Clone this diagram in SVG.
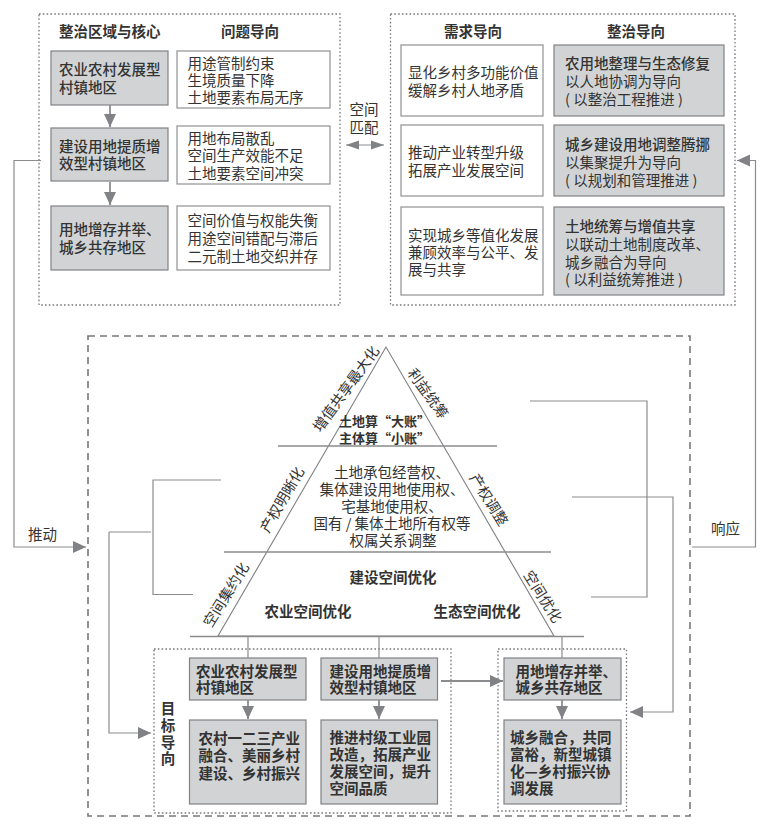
<svg xmlns="http://www.w3.org/2000/svg" width="769" height="826" viewBox="0 0 769 826">
<style>
text{font-family:"Noto Sans CJK SC","Liberation Sans",sans-serif;font-size:14.5px;fill:#333;dominant-baseline:central}
.b{font-weight:700}
.m{font-weight:500}
.c{text-anchor:middle}
.g{fill:#d1d3d4;stroke:#808285;stroke-width:1.2}
.w{fill:#fff;stroke:#8f9193;stroke-width:1.2}
.dot{fill:none;stroke:#77787b;stroke-width:1.3;stroke-dasharray:1.6 2.2}
.dash{fill:none;stroke:#77787b;stroke-width:1.6;stroke-dasharray:7 5}
.l{fill:none;stroke:#8a8c8e;stroke-width:1.2}
.t{fill:none;stroke:#808285;stroke-width:1.1}
.a{fill:none;stroke:#8a8c8e;stroke-width:1.8}
</style>
<defs>
<marker id="h" markerUnits="userSpaceOnUse" markerWidth="14" markerHeight="14" refX="13" refY="7" orient="auto"><path d="M0 1L13 7L0 13Z" fill="#808285"/></marker>
<marker id="s" markerUnits="userSpaceOnUse" markerWidth="14" markerHeight="14" refX="13" refY="7" orient="auto-start-reverse"><path d="M0 2.500L13 7L0 11.500Z" fill="#808285"/></marker>
</defs>

<g id="panel-left">
<rect class="dot" x="39" y="14" width="301" height="291"/>
<text class="b" x="59" y="30">整治区域与核心</text>
<text class="b c" x="250" y="30">问题导向</text>
</g>
<g id="n-left-1"><rect class="g" x="51" y="51" width="117" height="54"/><text class="m"><tspan x="59" y="67.500">农业农村发展型</tspan><tspan x="59" y="85.500">村镇地区</tspan></text></g>
<g id="n-left-2"><rect class="g" x="51" y="128" width="117" height="53"/><text class="m"><tspan x="59" y="144.500">建设用地提质增</tspan><tspan x="59" y="161.500">效型村镇地区</tspan></text></g>
<g id="n-left-3"><rect class="g" x="51" y="206" width="117" height="64"/><text class="m"><tspan x="59" y="227.500">用地增存并举、</tspan><tspan x="59" y="245.500">城乡共存地区</tspan></text></g>
<g id="n-prob-1"><rect class="w" x="177" y="51" width="153" height="57"/><text><tspan x="187.500" y="61.500">用途管制约束</tspan><tspan x="187.500" y="78.500">生境质量下降</tspan><tspan x="187.500" y="95.500">土地要素布局无序</tspan></text></g>
<g id="n-prob-2"><rect class="w" x="177" y="126" width="153" height="58"/><text><tspan x="187.500" y="136.500">用地布局散乱</tspan><tspan x="187.500" y="153.500">空间生产效能不足</tspan><tspan x="187.500" y="171.500">土地要素空间冲突</tspan></text></g>
<g id="n-prob-3"><rect class="w" x="177" y="206" width="153" height="64"/><text><tspan x="187.500" y="218.500">空间价值与权能失衡</tspan><tspan x="187.500" y="236.500">用途空间错配与滞后</tspan><tspan x="187.500" y="254.500">二元制土地交织并存</tspan></text></g>

<g id="n-match"><text class="c"><tspan x="364" y="107.500">空间</tspan><tspan x="364" y="125.500">匹配</tspan></text></g>

<g id="panel-right">
<rect class="dot" x="390.500" y="14" width="344.500" height="291"/>
<text class="b c" x="473" y="30">需求导向</text>
<text class="b c" x="636" y="30">整治导向</text>
</g>
<g id="n-need-1"><rect class="w" x="401" y="45" width="142" height="71"/><text><tspan x="408" y="71">显化乡村多功能价值</tspan><tspan x="408" y="88.500">缓解乡村人地矛盾</tspan></text></g>
<g id="n-need-2"><rect class="w" x="401" y="125" width="142" height="71"/><text><tspan x="408" y="151">推动产业转型升级</tspan><tspan x="408" y="168.500">拓展产业发展空间</tspan></text></g>
<g id="n-need-3"><rect class="w" x="401" y="207" width="142" height="88"/><text><tspan x="408" y="233.500">实现城乡等值化发展</tspan><tspan x="408" y="250.500">兼顾效率与公平、发</tspan><tspan x="408" y="267.500">展与共享</tspan></text></g>
<g id="n-act-1"><rect class="g" x="554" y="45" width="170" height="71"/><text><tspan class="m" x="565" y="61.500">农用地整理与生态修复</tspan><tspan x="565" y="79.500">以人地协调为导向</tspan><tspan x="565" y="97.500">( 以整治工程推进 )</tspan></text></g>
<g id="n-act-2"><rect class="g" x="554" y="125" width="170" height="71"/><text><tspan class="m" x="565" y="142.500">城乡建设用地调整腾挪</tspan><tspan x="565" y="160.500">以集聚提升为导向</tspan><tspan x="565" y="178.500">( 以规划和管理推进 )</tspan></text></g>
<g id="n-act-3"><rect class="g" x="554" y="207" width="170" height="88"/><text><tspan class="m" x="565" y="224.500">土地统筹与增值共享</tspan><tspan x="565" y="242.500">以联动土地制度改革、</tspan><tspan x="565" y="260.500">城乡融合为导向</tspan><tspan x="565" y="277.500">( 以利益统筹推进 )</tspan></text></g>

<rect id="panel-bottom" class="dash" x="88" y="336" width="602" height="480"/>

<g id="n-pyramid">
<path class="t" d="M386 347L218 636L554 636Z"/>
<path class="l" d="M278 446H497M224 552H551M190 636.500H584" style="stroke-width:1.3"/>
<text class="c" transform="translate(345 388) rotate(-54)">增值共享最大化</text>
<text class="c" transform="translate(429 393) rotate(54)">利益统筹</text>
<text class="c" transform="translate(281 499) rotate(-60)">产权明晰化</text>
<text class="c" transform="translate(490 499) rotate(58)">产权调整</text>
<text class="c" transform="translate(225 594) rotate(-58)">空间集约化</text>
<text class="c" transform="translate(544 596) rotate(58)">空间优化</text>
<text class="b c" style="font-size:13px"><tspan x="384.500" y="419.500">土地算“大账”</tspan><tspan x="384.500" y="436.500">主体算“小账”</tspan></text>
<text class="c"><tspan x="392" y="470.500">土地承包经营权、</tspan><tspan x="392" y="487.500">集体建设用地使用权、</tspan><tspan x="392" y="504.500">宅基地使用权、</tspan><tspan x="392" y="521.500">国有 / 集体土地所有权等</tspan><tspan x="393" y="538.500">权属关系调整</tspan></text>
<text class="b c" x="393" y="576.500">建设空间优化</text>
<text class="b c" x="308" y="610">农业空间优化</text>
<text class="b c" x="477" y="610">生态空间优化</text>
</g>

<g id="panel-goal">
<rect class="dot" x="154" y="649" width="297" height="164"/>
<text class="b c"><tspan x="168" y="706.500">目</tspan><tspan x="168" y="723.500">标</tspan><tspan x="168" y="740.500">导</tspan><tspan x="168" y="756.500">向</tspan></text>
</g>
<rect id="panel-goal-2" class="dot" x="498" y="649" width="128.500" height="162"/>
<g id="n-goal-1"><rect class="g" x="189.500" y="658" width="116.500" height="42"/><text class="b"><tspan x="196" y="669.500">农业农村发展型</tspan><tspan x="196" y="685.500">村镇地区</tspan></text></g>
<g id="n-goal-2"><rect class="g" x="321" y="658" width="116.500" height="42"/><text class="b"><tspan x="329.500" y="669.500">建设用地提质增</tspan><tspan x="329.500" y="685.500">效型村镇地区</tspan></text></g>
<g id="n-goal-3"><rect class="g" x="504" y="658" width="117" height="42"/><text class="b"><tspan x="515.500" y="669.500">用地增存并举、</tspan><tspan x="515.500" y="685.500">城乡共存地区</tspan></text></g>
<g id="n-out-1"><rect class="g" x="189.500" y="720" width="116.500" height="84"/><text class="b"><tspan x="198.500" y="736.500">农村一二三产业</tspan><tspan x="198.500" y="753.500">融合、美丽乡村</tspan><tspan x="198.500" y="771.500">建设、乡村振兴</tspan></text></g>
<g id="n-out-2"><rect class="g" x="321" y="720" width="116.500" height="84"/><text class="b"><tspan x="329.500" y="735.500">推进村级工业园</tspan><tspan x="329.500" y="752.500">改造，拓展产业</tspan><tspan x="329.500" y="769.500">发展空间，提升</tspan><tspan x="329.500" y="786.500">空间品质</tspan></text></g>
<g id="n-out-3"><rect class="g" x="504" y="720" width="117" height="84"/><text class="b"><tspan x="510" y="735.500">城乡融合，共同</tspan><tspan x="510" y="752.500">富裕，新型城镇</tspan><tspan x="510" y="769.500">化—乡村振兴协</tspan><tspan x="510" y="786.500">调发展</tspan></text></g>

<g id="connectors">
<path class="a" d="M110 105V127" marker-end="url(#h)"/>
<path class="a" d="M110 182V205" marker-end="url(#h)"/>
<path class="l" d="M346 145H384" marker-start="url(#s)" marker-end="url(#s)"/>
<path class="l" d="M41 160.500H14V547H86" marker-end="url(#h)"/>
<path class="l" d="M692 547H755.500V160.500H737" marker-end="url(#h)"/>
<path class="l" d="M221 480H153V594.500H193"/>
<path class="l" d="M109 532H151"/>
<path class="l" d="M109 532V733H151" marker-end="url(#h)"/>
<path class="l" d="M530 401H647V597H591"/>
<path class="l" d="M572 497H673V712H630" marker-end="url(#h)"/>
<path class="l" d="M248 636.500V658M379 636.500V658M562 636.500V658"/>
<path class="a" d="M248 700V719" marker-end="url(#h)"/>
<path class="a" d="M379 700V719" marker-end="url(#h)"/>
<path class="a" d="M562 700V719" marker-end="url(#h)"/>
<path class="a" d="M441 681H503" marker-end="url(#h)"/>
</g>
<text id="label-push" x="28" y="533.500">推动</text>
<text id="label-resp" x="711" y="527.500">响应</text>
</svg>
